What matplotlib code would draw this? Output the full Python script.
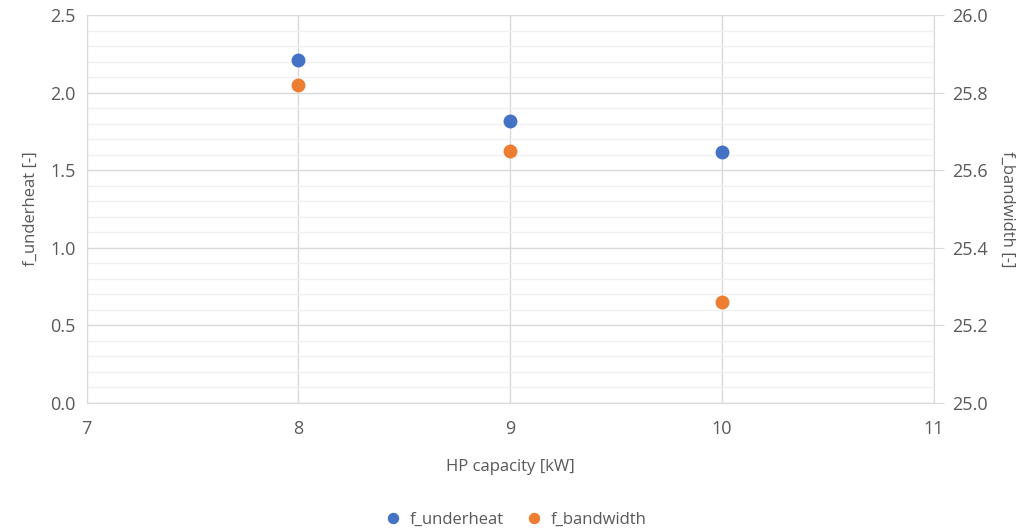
import matplotlib
matplotlib.use("Agg")
import matplotlib.pyplot as plt
from matplotlib.ticker import MultipleLocator

hp_capacity = [8, 9, 10]
f_underheat = [2.21, 1.82, 1.62]
f_bandwidth = [25.82, 25.65, 25.26]

plt.rcParams['font.family'] = ['Open Sans', 'DejaVu Sans']
txt = '#595959'
grid_major = '#d9d9d9'
grid_minor = '#f0f0f0'
blue = '#4472c4'
orange = '#ed7d31'

fig = plt.figure(figsize=(10.23, 5.3), dpi=100)
ax = fig.add_axes([0.0846, 0.2396, 0.8284, 0.7321])
ax2 = ax.twinx()

ax.set_xlim(7, 11)
ax.set_ylim(0, 2.5)
ax2.set_ylim(25.0, 26.0)
ax.xaxis.set_major_locator(MultipleLocator(1))
ax.yaxis.set_major_locator(MultipleLocator(0.5))
ax.yaxis.set_minor_locator(MultipleLocator(0.1))
ax2.yaxis.set_major_locator(MultipleLocator(0.2))

ax.grid(True, which='major', axis='both', color=grid_major, linewidth=1)
ax.grid(True, which='minor', axis='y', color=grid_minor, linewidth=1)
ax.set_axisbelow(True)

h1 = ax.plot(hp_capacity, f_underheat, 'o', color=blue, markersize=9, label='f_underheat', zorder=3)
h2 = ax2.plot(hp_capacity, f_bandwidth, 'o', color=orange, markersize=9, label='f_bandwidth', zorder=3)

for a in (ax, ax2):
    for s in a.spines.values():
        s.set_visible(False)
    a.tick_params(colors=txt, labelsize=13, length=0)
    a.tick_params(which='minor', length=0)
ax2.spines['right'].set_visible(True)
ax2.spines['right'].set_color(grid_major)
ax.spines['bottom'].set_visible(True)
ax.spines['bottom'].set_color(grid_major)
ax.spines['left'].set_visible(True)
ax.spines['left'].set_color(grid_major)
ax2.tick_params(axis='y', length=7, color=grid_major, pad=6)
ax.tick_params(axis='x', pad=12)
ax.tick_params(axis='y', pad=8)

ax.yaxis.set_major_formatter(matplotlib.ticker.FormatStrFormatter('%.1f'))
ax2.yaxis.set_major_formatter(matplotlib.ticker.FormatStrFormatter('%.1f'))

ax.set_xlabel('HP capacity [kW]', color=txt, fontsize=12, labelpad=15)
ax.set_ylabel('f_underheat [-]', color=txt, fontsize=12, labelpad=8)
ax2.set_ylabel('f_bandwidth [-]', color=txt, fontsize=12, rotation=270, labelpad=20)

fig.legend(handles=h1 + h2, loc='lower center', bbox_to_anchor=(0.5, -0.025), ncol=2,
           frameon=False, fontsize=12, labelcolor=txt, handletextpad=0.0,
           columnspacing=0.8, markerscale=0.8)

fig.savefig('out.png', dpi=100)
